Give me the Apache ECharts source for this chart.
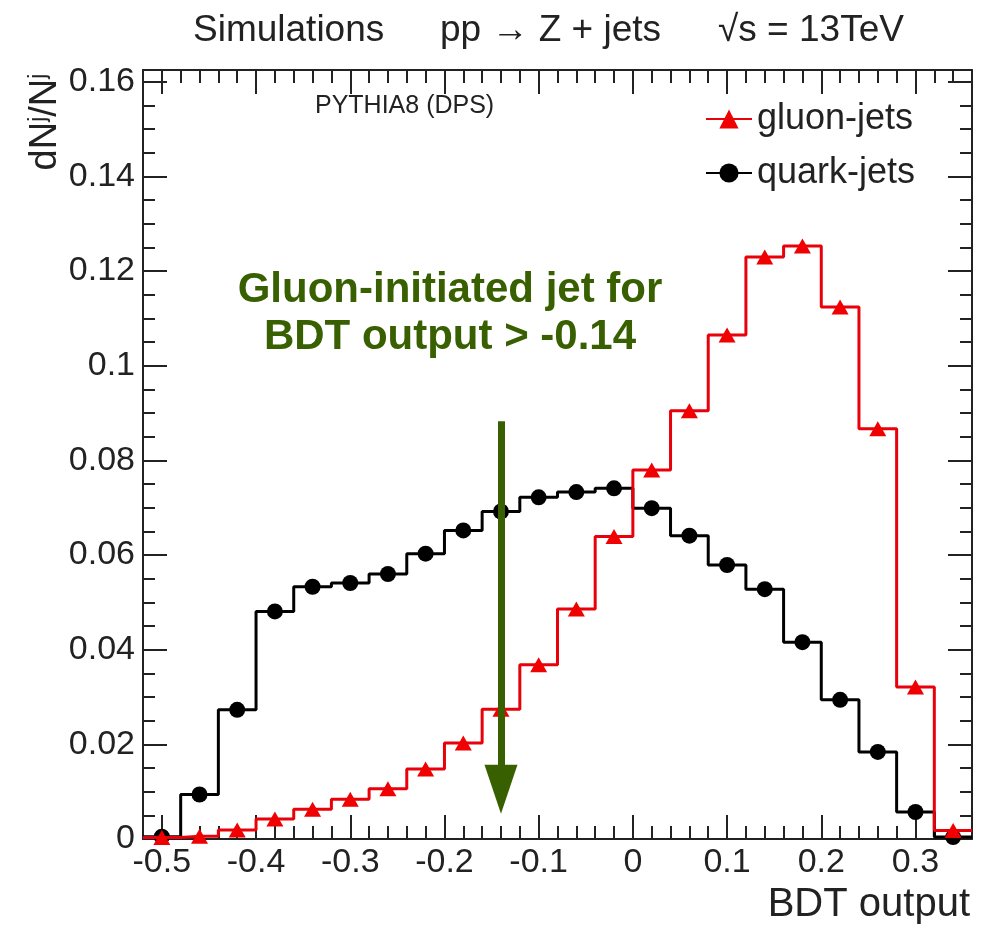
<!DOCTYPE html>
<html>
<head>
<meta charset="utf-8">
<script src="https://cdn.jsdelivr.net/npm/echarts@6/dist/echarts.min.js"></script>
<style>
  html, body { margin: 0; padding: 0; background: #fff; }
  #chart { width: 988px; height: 930px; }
</style>
</head>
<body>
<div id="chart"></div>
<script>
// ---- data ----
const binCenters = [-0.50, -0.46, -0.42, -0.38, -0.34, -0.30, -0.26, -0.22, -0.18, -0.14, -0.10,
                    -0.06, -0.02, 0.02, 0.06, 0.10, 0.14, 0.18, 0.22, 0.26, 0.30, 0.34];
const binWidth = 0.04;
const gluonJets = [0.0003, 0.0006, 0.0019, 0.0042, 0.0063, 0.0084, 0.0106, 0.0148, 0.0203, 0.0274, 0.0368,
                   0.0486, 0.0639, 0.0780, 0.0905, 0.1065, 0.1230, 0.1253, 0.1124, 0.0867, 0.0321, 0.0018];
const quarkJets = [0.0005, 0.0094, 0.0273, 0.0481, 0.0533, 0.0541, 0.0560, 0.0603, 0.0652, 0.0692, 0.0722,
                   0.0733, 0.0741, 0.0699, 0.0641, 0.0579, 0.0528, 0.0416, 0.0294, 0.0184, 0.0057, 0.0004];
const xMajorTicks = [-0.5, -0.4, -0.3, -0.2, -0.1, 0, 0.1, 0.2, 0.3];
const xMinorTicks = [-0.52, -0.48, -0.46, -0.44, -0.42, -0.38, -0.36, -0.34, -0.32, -0.28, -0.26, -0.24, -0.22,
                     -0.18, -0.16, -0.14, -0.12, -0.08, -0.06, -0.04, -0.02, 0.02, 0.04, 0.06, 0.08,
                     0.12, 0.14, 0.16, 0.18, 0.22, 0.24, 0.26, 0.28, 0.32, 0.34];
const yMajorTicks = [0, 0.02, 0.04, 0.06, 0.08, 0.1, 0.12, 0.14, 0.16];
const yMinorTicks = [0.005, 0.01, 0.015, 0.025, 0.03, 0.035, 0.045, 0.05, 0.055, 0.065, 0.07, 0.075,
                     0.085, 0.09, 0.095, 0.105, 0.11, 0.115, 0.125, 0.13, 0.135, 0.145, 0.15, 0.155];
const cutValue = -0.14;
const arrowTop = 0.0883;
const arrowEnd = 0.0105;

// ---- build ----
function histData(vals) {
  const last = vals.length - 1;
  const d = [];
  d.push({ value: [binCenters[0] - binWidth / 2, vals[0]], symbol: 'none', symbolSize: 0 });
  vals.forEach((v, i) => d.push([binCenters[i], v]));
  d.push({ value: [binCenters[last] + binWidth / 2, vals[last]], symbol: 'none', symbolSize: 0 });
  return d;
}

const AX = '#222';
const FONT = 'Liberation Sans, Arial, sans-serif';
const xMin = -0.52, xMax = 0.36, yMin = 0, yMax = 0.1625;

function xAx(pos, ticks, len, showLine, showLabel) {
  return {
    type: 'value', position: pos, min: xMin, max: xMax,
    axisLine: { show: showLine, onZero: false, lineStyle: { color: AX, width: 2 } },
    axisTick: { show: true, inside: true, length: len, customValues: ticks, lineStyle: { color: AX, width: 2 } },
    axisLabel: showLabel ? { show: true, customValues: ticks, fontSize: 34, fontFamily: FONT, color: AX, margin: 7 } : { show: false },
    splitLine: { show: false }
  };
}
function yAx(pos, ticks, len, showLine, showLabel) {
  return {
    type: 'value', position: pos, min: yMin, max: yMax,
    axisLine: { show: showLine, onZero: false, lineStyle: { color: AX, width: 2 } },
    axisTick: { show: true, inside: true, length: len, customValues: ticks, lineStyle: { color: AX, width: 2 } },
    axisLabel: showLabel ? { show: true, customValues: ticks, fontSize: 34, fontFamily: FONT, color: AX, margin: 8 } : { show: false },
    splitLine: { show: false }
  };
}

const chart = echarts.init(document.getElementById('chart'), null, { renderer: 'canvas' });
const GREEN = '#386000';

chart.setOption({
  backgroundColor: '#fff',
  animation: false,
  grid: { left: 143, right: 16, top: 70, bottom: 91, containLabel: false, outerBoundsMode: 'none' },
  xAxis: [
    xAx('bottom', xMajorTicks, 24, true, true),
    xAx('bottom', xMinorTicks, 13, false, false),
    xAx('top', xMajorTicks, 24, true, false),
    xAx('top', xMinorTicks, 13, false, false)
  ],
  yAxis: [
    yAx('left', yMajorTicks, 24, true, true),
    yAx('left', yMinorTicks, 12, false, false),
    yAx('right', yMajorTicks, 24, true, false),
    yAx('right', yMinorTicks, 12, false, false)
  ],
  legend: {
    data: ['gluon-jets', 'quark-jets'],
    orient: 'vertical', left: 700, top: 96,
    itemWidth: 46, itemHeight: 24, itemGap: 18,
    textStyle: { fontSize: 36, fontFamily: FONT, color: AX, lineHeight: 36 },
    selectedMode: false
  },
  series: [
    {
      name: 'quark-jets', type: 'line', step: 'middle',
      xAxisIndex: 0, yAxisIndex: 0,
      data: histData(quarkJets),
      symbol: 'circle', symbolSize: 16, showSymbol: true,
      lineStyle: { color: '#000', width: 3 },
      itemStyle: { color: '#000' },
      z: 3
    },
    {
      name: 'gluon-jets', type: 'line', step: 'middle',
      xAxisIndex: 0, yAxisIndex: 0,
      data: histData(gluonJets),
      symbol: 'triangle', symbolSize: [17, 15], showSymbol: true,
      lineStyle: { color: '#e8000a', width: 3 },
      itemStyle: { color: '#f00000' },
      z: 4,
      markLine: {
        silent: true,
        symbol: ['none', 'triangle'],
        symbolSize: [33, 49],
        label: { show: false },
        lineStyle: { color: GREEN, width: 7, type: 'solid' },
        itemStyle: { color: GREEN },
        emphasis: { disabled: true },
        data: [[{ coord: [cutValue, arrowTop] }, { coord: [cutValue, arrowEnd] }]],
        z: 10
      }
    }
  ],
  graphic: [
    { type: 'text', left: 193, top: 12, style: { text: 'Simulations', font: '37px ' + FONT, fill: AX } },
    { type: 'text', left: 440, top: 12, style: { text: 'pp \u2192 Z + jets', font: '37px ' + FONT, fill: AX } },
    { type: 'text', left: 718, top: 12, style: { text: '\u221As = 13TeV', font: '37px ' + FONT, fill: AX } },
    { type: 'text', left: 315, top: 94, style: { text: 'PYTHIA8 (DPS)', font: '25px ' + FONT, fill: AX } },
    { type: 'text', right: 18, top: 885, style: { text: 'BDT output', font: '40px ' + FONT, fill: AX } },
    {
      type: 'text', x: 46, y: 122, rotation: Math.PI / 2,
      style: {
        text: 'dN{s|j}/N{s|j}',
        font: '38px ' + FONT, fill: AX,
        align: 'center', verticalAlign: 'middle',
        rich: { s: { fontSize: 23, fontFamily: FONT, verticalAlign: 'top', lineHeight: 38 } }
      }
    },
    {
      type: 'text', x: 450, y: 290,
      style: { text: 'Gluon-initiated jet for', font: 'bold 42px ' + FONT, fill: GREEN, align: 'center', verticalAlign: 'middle' }
    },
    {
      type: 'text', x: 450, y: 337,
      style: { text: 'BDT output > -0.14', font: 'bold 42px ' + FONT, fill: GREEN, align: 'center', verticalAlign: 'middle' }
    }
  ]
});
</script>
</body>
</html>
